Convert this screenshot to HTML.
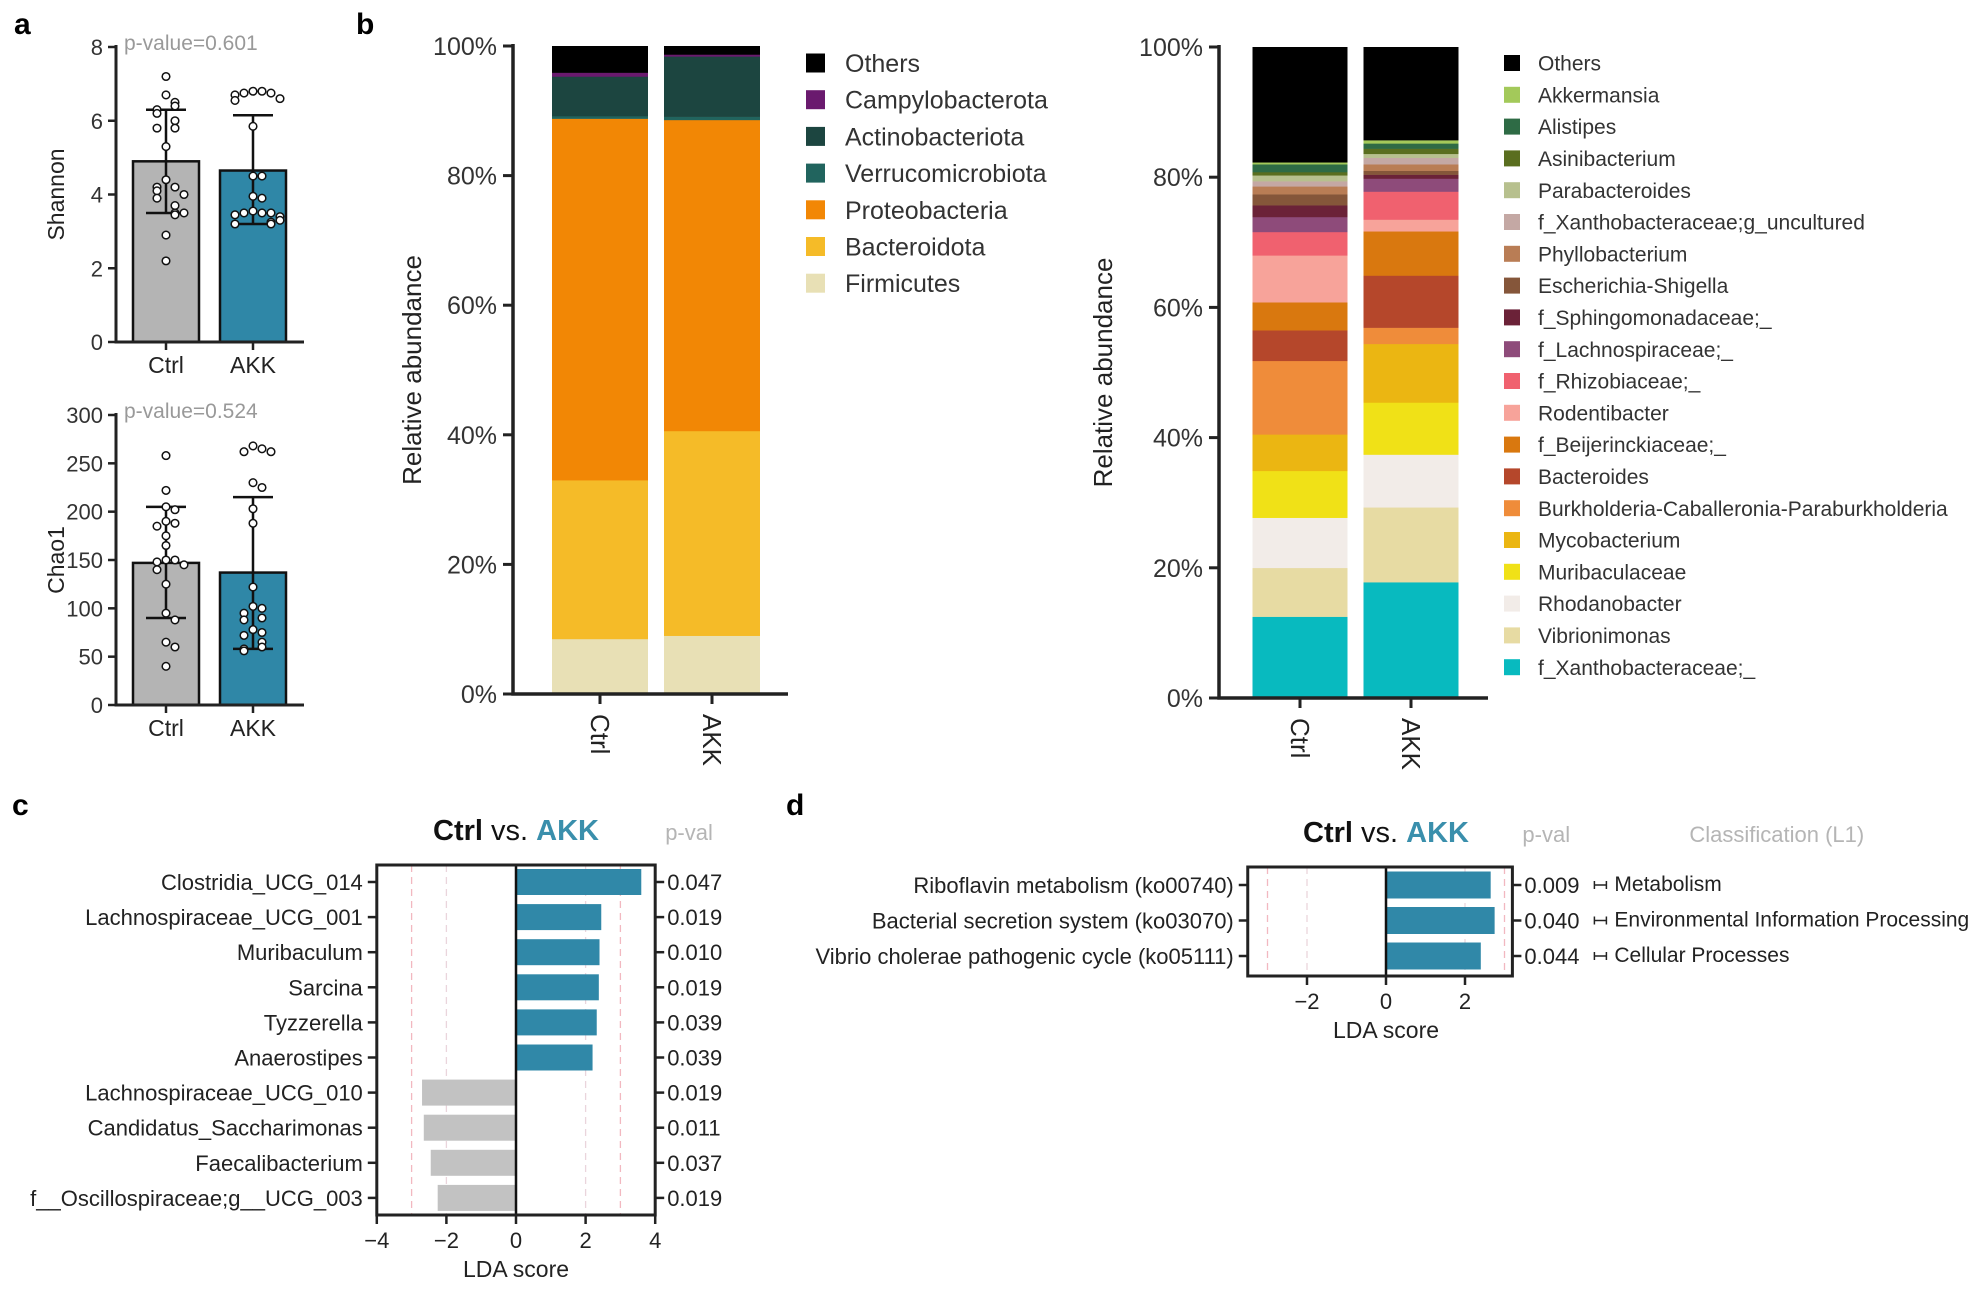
<!DOCTYPE html>
<html><head><meta charset="utf-8">
<style>
html,body{margin:0;padding:0;background:#fff;}
svg{display:block;font-family:"Liberation Sans",Arial,sans-serif;}
</style></head>
<body>
<svg id="fig" width="1985" height="1291" viewBox="0 0 1985 1291" xmlns="http://www.w3.org/2000/svg">
<text x="14" y="34" font-size="30" font-weight="bold">a</text>
<text x="356" y="34" font-size="30" font-weight="bold">b</text>
<text x="12" y="815" font-size="30" font-weight="bold">c</text>
<text x="786" y="815" font-size="30" font-weight="bold">d</text>
</svg>
<script>
// ---------- DATA ----------
const alphaGroups = ["Ctrl","AKK"];
const shannonMeans = [4.9, 4.65];
const shannonSdLow = [3.5, 3.2];
const shannonSdHigh = [6.3, 6.15];
const shannonCtrl = [7.2,6.7,6.5,6.4,6.3,6.2,6.0,5.8,5.8,5.3,4.4,4.2,4.2,4.1,4.0,3.9,3.7,3.5,3.45,3.5,2.9,2.2];
const shannonAkk = [6.8,6.8,6.75,6.75,6.7,6.6,6.55,5.85,4.5,4.5,3.95,3.9,3.55,3.5,3.5,3.5,3.45,3.4,3.3,3.25,3.2,3.2];
const shannonTicks = [0,2,4,6,8];
const chaoMeans = [147, 137];
const chaoSdLow = [90, 58];
const chaoSdHigh = [205, 215];
const chaoCtrl = [258,222,205,202,190,188,185,175,165,150,150,148,145,140,125,95,88,65,60,40];
const chaoAkk = [268,265,262,262,230,225,203,188,122,102,100,95,90,88,78,75,72,65,60,58,56];
const chaoTicks = [0,50,100,150,200,250,300];

const phylumNames = ["Firmicutes","Bacteroidota","Proteobacteria","Verrucomicrobiota","Actinobacteriota","Campylobacterota","Others"];
const phylumColors = ["#e8e0b5","#f5bb28","#f28705","#21645e","#1c4540","#6a1a6e","#000000"];
const phylumCtrl = [8.5,24.5,55.8,0.4,6.1,0.6,4.1];
const phylumAkk = [9.0,31.6,48.0,0.5,9.3,0.3,1.3];

const genusNames = ["f_Xanthobacteraceae;_","Vibrionimonas","Rhodanobacter","Muribaculaceae","Mycobacterium","Burkholderia-Caballeronia-Paraburkholderia","Bacteroides","f_Beijerinckiaceae;_","Rodentibacter","f_Rhizobiaceae;_","f_Lachnospiraceae;_","f_Sphingomonadaceae;_","Escherichia-Shigella","Phyllobacterium","f_Xanthobacteraceae;g_uncultured","Parabacteroides","Asinibacterium","Alistipes","Akkermansia","Others"];
const genusColors = ["#08babf","#e7dba3","#f2ece8","#f0e117","#ebb612","#ef8c3a","#b5472b","#d9780f","#f7a39a","#f0616f","#8e4b7a","#6b2238","#85563a","#b97d55","#c4a8a4","#b7c08e","#5a6e1f","#2e6b45","#a3c95a","#000000"];
const genusCtrl = [12.5,7.5,7.7,7.2,5.6,11.3,4.7,4.3,7.2,3.6,2.3,1.8,1.7,1.2,0.8,0.9,0.5,1.2,0.3,17.7];
const genusAkk = [17.8,11.5,8.1,8.0,9.0,2.5,8.0,6.8,1.8,4.3,2.0,0.6,0.6,1.0,1.0,0.6,0.8,0.8,0.5,14.3];
const pctTicks = [0,20,40,60,80,100];

const ldaTaxa = ["Clostridia_UCG_014","Lachnospiraceae_UCG_001","Muribaculum","Sarcina","Tyzzerella","Anaerostipes","Lachnospiraceae_UCG_010","Candidatus_Saccharimonas","Faecalibacterium","f__Oscillospiraceae;g__UCG_003"];
const ldaScores = [3.6,2.45,2.4,2.38,2.32,2.2,-2.7,-2.65,-2.45,-2.25];
const ldaPvals = ["0.047","0.019","0.010","0.019","0.039","0.039","0.019","0.011","0.037","0.019"];
const ldaTicks = [-4,-2,0,2,4];

const pathNames = ["Riboflavin metabolism (ko00740)","Bacterial secretion system (ko03070)","Vibrio cholerae pathogenic cycle (ko05111)"];
const pathScores = [2.65,2.75,2.4];
const pathPvals = ["0.009","0.040","0.044"];
const pathClass = ["Metabolism","Environmental Information Processing","Cellular Processes"];
const pathTicks = [-2,0,2];

// ---------- HELPERS ----------
const svg = document.getElementById('fig');
const NS = "http://www.w3.org/2000/svg";
function mk(tag, attrs, parent){
  const e = document.createElementNS(NS, tag);
  for (const k in attrs) e.setAttribute(k, attrs[k]);
  (parent||svg).appendChild(e);
  return e;
}
function txt(x,y,s,size,anchor,fill,parent){
  const t = mk('text',{x:x,y:y,'font-size':size,'text-anchor':anchor||'start',fill:fill||'#222'},parent);
  t.textContent = s;
  return t;
}

// ---------- PANEL A ----------
function alphaPanel(cfg){
  const g = mk('g',{});
  
  
  const ax = 116, y0 = cfg.y0, yTop = cfg.yTop, vmax = cfg.ticks[cfg.ticks.length-1];
  const yS = v => y0 - v/vmax*(y0-yTop);
  const cx = [166, 253], bw = 66;
  for (let i=0;i<2;i++){
    const r = mk('rect',{x:cx[i]-bw/2,y:yS(cfg.means[i]),width:bw,height:y0-yS(cfg.means[i]),fill:i?'#2f87a7':'#b4b4b4',stroke:'#111','stroke-width':2.5},g);
    
    
    const e = mk('path',{d:`M${cx[i]},${yS(cfg.lo[i])}V${yS(cfg.hi[i])}M${cx[i]-20},${yS(cfg.lo[i])}h40M${cx[i]-20},${yS(cfg.hi[i])}h40`,stroke:'#111','stroke-width':2.5,fill:'none'},g);
    
    
    const pts = cfg.pts[i];
    const placed = [];
    pts.forEach(v=>{
      const py = yS(v);
      const near = placed.filter(p=>Math.abs(p-py)<8).length;
      placed.push(py);
      const off = near===0?0:(near%2? 1:-1)*Math.ceil(near/2)*9;
      const c = mk('circle',{cx:cx[i]+off,cy:py,r:3.8,fill:'#fff',stroke:'#111','stroke-width':1.5},g);
      
      
    });
  }
  mk('path',{d:`M${ax},${yTop-2}V${y0}H304`,stroke:'#222','stroke-width':3,fill:'none'},g);
  cfg.ticks.forEach(t=>{
    mk('line',{x1:ax-8,x2:ax,y1:yS(t),y2:yS(t),stroke:'#222','stroke-width':2.5},g);
    const l = txt(ax-13,yS(t)+8,String(t),22,'end','#333',g);
    
    
  });
  for (let i=0;i<2;i++){
    mk('line',{x1:cx[i],x2:cx[i],y1:y0,y2:y0+8,stroke:'#222','stroke-width':2.5},g);
    const l = txt(cx[i],y0+31,alphaGroups[i],23,'middle','#222',g);
    
    
  }
  const yt = txt(0,0,cfg.ylabel,23,'middle','#222',g);
  yt.setAttribute('transform',`translate(64,${(y0+yTop)/2}) rotate(-90)`);
  
  
  const pv = txt(124,cfg.pvY,cfg.pval,21,'start','#999',g);
  
  
}
alphaPanel({name:'shannon-chart',y0:342,yTop:47,ticks:shannonTicks,means:shannonMeans,lo:shannonSdLow,hi:shannonSdHigh,pts:[shannonCtrl,shannonAkk],ylabel:'Shannon',pval:'p-value=0.601',pvY:50});
alphaPanel({name:'chao1-chart',y0:705,yTop:415,ticks:chaoTicks,means:chaoMeans,lo:chaoSdLow,hi:chaoSdHigh,pts:[chaoCtrl,chaoAkk],ylabel:'Chao1',pval:'p-value=0.524',pvY:418});

// ---------- PANEL B ----------
function stackPanel(cfg){
  const g = mk('g',{});
  
  
  const ax=cfg.ax, y0=cfg.y0, yTop=cfg.yTop;
  const yS = v => y0 - v/100*(y0-yTop);
  const series=[cfg.ctrl,cfg.akk];
  for (let i=0;i<2;i++){
    let acc=0;
    series[i].forEach((v,k)=>{
      const r = mk('rect',{x:cfg.cx[i]-cfg.bw/2,y:yS(acc+v),width:cfg.bw,height:yS(acc)-yS(acc+v)+0.3,fill:cfg.colors[k]},g);
      
      
      acc+=v;
    });
    mk('line',{x1:cfg.cx[i],x2:cfg.cx[i],y1:y0,y2:y0+10,stroke:'#222','stroke-width':3},g);
    const l = txt(0,0,alphaGroups[i],26,'start','#222',g);
    l.setAttribute('transform',`translate(${cfg.cx[i]-9},${y0+20}) rotate(90)`);
    
    
  }
  mk('path',{d:`M${ax},${yTop-2}V${y0}H${cfg.xEnd}`,stroke:'#222','stroke-width':3.5,fill:'none'},g);
  pctTicks.forEach(t=>{
    mk('line',{x1:ax-10,x2:ax,y1:yS(t),y2:yS(t),stroke:'#222','stroke-width':3},g);
    const l = txt(ax-16,yS(t)+9,t+'%',25,'end','#333',g);
    
    
  });
  const yt = txt(0,0,'Relative abundance',26,'middle','#222',g);
  yt.setAttribute('transform',`translate(${cfg.ylx},${(y0+yTop)/2}) rotate(-90)`);
  
  
  const n = cfg.names.length;
  for (let j=0;j<n;j++){
    const k = n-1-j;
    const y = cfg.legY + j*cfg.legStep;
    const s = mk('rect',{x:cfg.legX,y:y-cfg.sq/2,width:cfg.sq,height:cfg.sq,fill:cfg.colors[k]},g);
    
    
    const l = txt(cfg.legTx,y+cfg.fs*0.36,cfg.names[k],cfg.fs,'start','#333',g);
    
    
  }
}
stackPanel({name:'phylum-stacked-chart',ax:513,y0:694,yTop:46,cx:[600,712],bw:96,xEnd:788,ctrl:phylumCtrl,akk:phylumAkk,colors:phylumColors,names:phylumNames,ylx:421,legX:806,legTx:845,legY:63,legStep:36.7,sq:19,fs:25});
stackPanel({name:'genus-stacked-chart',ax:1219,y0:698,yTop:47,cx:[1300,1411],bw:95,xEnd:1488,ctrl:genusCtrl,akk:genusAkk,colors:genusColors,names:genusNames,ylx:1112,legX:1504,legTx:1538,legY:63,legStep:31.8,sq:16,fs:21});

// ---------- LDA PANELS ----------
function ldaPanel(cfg){
  const g = mk('g',{});
  
  
  const xS = v => cfg.x0 + v*cfg.unit;
  const left=xS(cfg.xmin), right=xS(cfg.xmax);
  mk('rect',{x:left,y:cfg.top,width:right-left,height:cfg.bot-cfg.top,fill:'#fff'},g);
  [-3,-2,2,3].forEach(v=>{
    if (xS(v)>left && xS(v)<right)
      mk('line',{x1:xS(v),x2:xS(v),y1:cfg.top,y2:cfg.bot,stroke:Math.abs(v)===3?'#f2b8c0':'#ead5dc','stroke-width':1.3,'stroke-dasharray':'7,5'},g);
  });
  cfg.names.forEach((nm,i)=>{
    const y = cfg.rowY + i*cfg.step;
    const v = cfg.scores[i];
    const b = mk('rect',{x:Math.min(xS(0),xS(v)),y:y-cfg.bh/2,width:Math.abs(xS(v)-xS(0)),height:cfg.bh,fill:v>0?'#3088a8':'#c2c2c2'},g);
    
    
    mk('line',{x1:left-9,x2:left,y1:y,y2:y,stroke:'#222','stroke-width':2.5},g);
    mk('line',{x1:right,x2:right+9,y1:y,y2:y,stroke:'#222','stroke-width':2.5},g);
    const l = txt(left-14,y+8,nm,cfg.fs,'end','#222',g);
    
    
    const p = txt(right+12,y+8,cfg.pvals[i],cfg.fs,'start','#222',g);
    
    
    if (cfg.cls){
      mk('path',{d:`M${right+82},${y-4}v8M${right+82},${y}h12M${right+94},${y-4}v8`,stroke:'#222','stroke-width':1.5},g);
      const c = txt(right+102,y+6,cfg.cls[i],cfg.fs-1,'start','#222',g);
      
      
    }
  });
  mk('line',{x1:xS(0),x2:xS(0),y1:cfg.top,y2:cfg.bot,stroke:'#111','stroke-width':2.5},g);
  mk('rect',{x:left,y:cfg.top,width:right-left,height:cfg.bot-cfg.top,fill:'none',stroke:'#222','stroke-width':3},g);
  cfg.ticks.forEach(t=>{
    mk('line',{x1:xS(t),x2:xS(t),y1:cfg.bot,y2:cfg.bot+9,stroke:'#222','stroke-width':2.5},g);
    const l = txt(xS(t),cfg.bot+33,t<0?'\u2212'+(-t):String(t),cfg.fs,'middle','#222',g);
    
    
  });
  const xt = txt(xS(0),cfg.bot+62,'LDA score',cfg.fs+1,'middle','#222',g);
  
  
  const ti = mk('text',{x:xS(0),y:cfg.top-25,'font-size':29,'text-anchor':'middle'},g);
  
  
  ti.innerHTML = '<tspan font-weight="bold" fill="#111">Ctrl</tspan><tspan fill="#111"> vs. </tspan><tspan font-weight="bold" fill="#3a8fac">AKK</tspan>';
  const ph = txt(right+10,cfg.top-25,'p-val',cfg.fs,'start','#b5b5b5',g);
  
  
  if (cfg.cls){
    const ch = txt(right+177,cfg.top-25,'Classification (L1)',cfg.fs,'start','#b5b5b5',g);
    
    
  }
}
ldaPanel({name:'lda-genus-chart',x0:516,unit:34.8,xmin:-4,xmax:4,top:865,bot:1215,rowY:882,step:35.1,bh:26,names:ldaTaxa,scores:ldaScores,pvals:ldaPvals,ticks:ldaTicks,fs:22});
ldaPanel({name:'lda-pathway-chart',x0:1386,unit:39.5,xmin:-3.5,xmax:3.2,top:867,bot:976,rowY:885,step:35.5,bh:27,names:pathNames,scores:pathScores,pvals:pathPvals,ticks:pathTicks,fs:22,cls:pathClass});
</script>
</body></html>
